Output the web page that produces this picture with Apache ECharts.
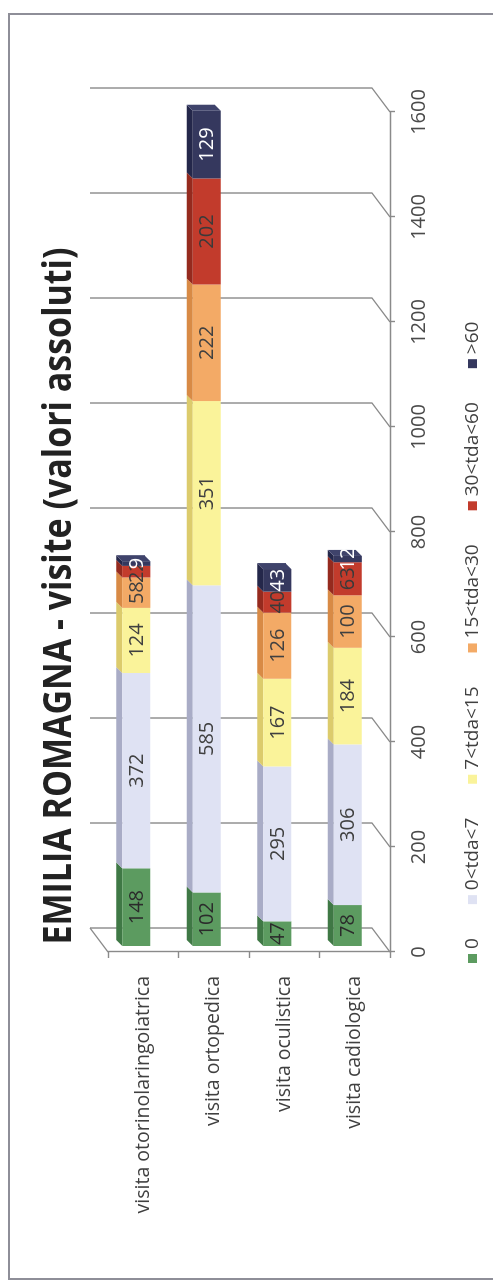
<!DOCTYPE html>
<html>
<head>
<meta charset="utf-8">
<script src="https://cdn.jsdelivr.net/npm/echarts@6/dist/echarts.min.js"></script>
<style>
  html, body { margin: 0; padding: 0; background: #fff; overflow: hidden; }
  #page { position: relative; width: 493px; height: 1282px; overflow: hidden; background: #fff; }
  /* the chart is laid out landscape and turned a quarter turn to stand upright */
  #chart { position: absolute; left: 0; top: 0; width: 1282px; height: 493px;
           transform-origin: 0 0; transform: translateY(1282px) rotate(-90deg); }
</style>
</head>
<body>
<div id="page"><div id="chart"></div></div>
<script>
// ---- data ----
const titleText = 'EMILIA ROMAGNA - visite (valori assoluti)';
const categories = ['visita otorinolaringoiatrica', 'visita ortopedica', 'visita oculistica', 'visita cadiologica'];
const seriesNames = ['0', '0<tda<7', '7<tda<15', '15<tda<30', '30<tda<60', '>60'];
const valZero    = [148, 102, 47, 78];
const val0to7    = [372, 585, 295, 306];
const val7to15   = [124, 351, 167, 184];
const val15to30  = [58, 222, 126, 100];
const val30to60  = [22, 202, 40, 63];
const valOver60  = [9, 129, 43, 12];
const valueTicks = [0, 200, 400, 600, 800, 1000, 1200, 1400, 1600];

// ---- styling ----
const faceColors  = ['#5c9b60', '#dfe2f3', '#faf39a', '#f3aa66', '#c23b2c', '#35385e'];
const sideColors  = ['#3f7845', '#a9acc6', '#dccb6c', '#d88a45', '#952a1e', '#24274a'];
const topColors   = ['#6fae72', '#e9ecf8', '#fcf7b4', '#f6bd85', '#cf5444', '#3f436b'];
const labelColors = ['#2b2b2b', '#404040', '#404040', '#404040', '#3a3a3a', '#ffffff'];
const FONT = '"Open Sans", "Noto Sans", sans-serif';
const AXIS_GRAY = '#8a8a8a';
const FACE_SHIFT = [6, -7];   // bar front face sits a little behind the front axis plane
const DEPTH = [6, -6];        // bar depth vector
const WALL = [24, -18];       // back wall / floor depth vector

const stackValues = [valZero, val0to7, val7to15, val15to30, val30to60, valOver60];

const chart = echarts.init(document.getElementById('chart'), null, { renderer: 'canvas' });

function barRenderer(idx, isTop) {
  return function (params, api) {
    const base = api.value(0), cat = api.value(1), val = api.value(2);
    const a = api.coord([base, cat]);
    const b = api.coord([base + val, cat]);
    const band = api.size([0, 1])[1];
    const w = band * 0.4;
    const cy = a[1] + FACE_SHIFT[1];
    const y0 = cy - w / 2, y1 = cy + w / 2;
    const x0 = a[0] + FACE_SHIFT[0], x1 = b[0] + FACE_SHIFT[0];
    const children = [
      { type: 'polygon', shape: { points: [[x0, y0], [x1, y0], [x1 + DEPTH[0], y0 + DEPTH[1]], [x0 + DEPTH[0], y0 + DEPTH[1]]] },
        style: { fill: sideColors[idx] } },
      { type: 'rect', shape: { x: x0, y: y0, width: x1 - x0, height: w }, style: { fill: faceColors[idx] } }
    ];
    if (isTop) {
      children.push({ type: 'polygon',
        shape: { points: [[x1, y0], [x1, y1], [x1 + DEPTH[0], y1 + DEPTH[1]], [x1 + DEPTH[0], y0 + DEPTH[1]]] },
        style: { fill: topColors[idx] } });
    }
    children.push({ type: 'text', x: (x0 + x1) / 2, y: cy + 1, z2: 10,
      style: { text: String(val), fill: labelColors[idx], font: '20px ' + FONT, align: 'center', verticalAlign: 'middle' } });
    return { type: 'group', children: children };
  };
}

const series = [];
// wall gridlines with their depth returns to the front value axis
series.push({
  type: 'custom', name: 'grid', silent: true, clip: false, z: 1,
  encode: { x: 0, y: 1 },
  data: valueTicks.map(v => [v, 0]),
  renderItem: function (params, api) {
    const cs = params.coordSys;
    const v = api.value(0);
    const fx = api.coord([v, 0])[0];
    const bottom = cs.y + cs.height;
    const bx = fx + WALL[0];
    const pts = [[bx, cs.y + WALL[1]], [bx, bottom + WALL[1]], [fx, bottom]];
    const children = [{ type: 'polyline', shape: { points: pts }, style: { stroke: AXIS_GRAY, lineWidth: 1.4, fill: null } }];
    if (v === 0) {
      children.push({ type: 'line', shape: { x1: bx, y1: cs.y + WALL[1], x2: fx, y2: cs.y },
        style: { stroke: AXIS_GRAY, lineWidth: 1.4 } });
    }
    return { type: 'group', children: children };
  }
});

const cumulative = categories.map(() => 0);
stackValues.forEach((vals, idx) => {
  const data = vals.map((v, c) => {
    const item = [cumulative[c], c, v];
    cumulative[c] += v;
    return item;
  });
  series.push({
    type: 'custom', name: seriesNames[idx], clip: false, z: 2 + idx,
    itemStyle: { color: faceColors[idx] },
    encode: { x: [0, 2], y: 1 },
    data: data,
    renderItem: barRenderer(idx, idx === stackValues.length - 1)
  });
});

// title width fitted to a condensed look
const TITLE_FONT = 'bold 40px ' + FONT;
const measureCtx = document.createElement('canvas').getContext('2d');
measureCtx.font = TITLE_FONT;
const titleScale = 697 / measureCtx.measureText(titleText).width;

chart.setOption({
  backgroundColor: '#fff',
  animation: false,
  grid: { left: 330, right: 112, top: 108, height: 282, containLabel: false },
  xAxis: {
    type: 'value', min: 0, max: 1600, interval: 200, position: 'bottom',
    axisLine: { show: true, lineStyle: { color: AXIS_GRAY, width: 1.4 } },
    axisTick: { show: true, length: 5, lineStyle: { color: AXIS_GRAY, width: 1.4 } },
    axisLabel: { margin: 19, color: '#4a4a4a', fontSize: 20, fontFamily: FONT,
                 formatter: function (v) { return String(v); } },
    splitLine: { show: false }
  },
  yAxis: {
    type: 'category', inverse: true, data: categories,
    axisLine: { show: true, lineStyle: { color: AXIS_GRAY, width: 1.4 } },
    axisTick: { show: true, length: 6, interval: 0, lineStyle: { color: AXIS_GRAY, width: 1.4 } },
    axisLabel: { margin: 24, color: '#404040', fontSize: 19.5, fontFamily: FONT, interval: 0 }
  },
  legend: {
    data: seriesNames, orient: 'horizontal', left: 314, top: 458,
    itemWidth: 9, itemHeight: 9, itemGap: 34, icon: 'rect',
    textStyle: { color: '#404040', fontSize: 19, fontFamily: FONT, padding: [0, 0, 0, 0] }
  },
  graphic: [
    { type: 'rect', silent: true, z: -1,
      shape: { x: 3, y: 9, width: 1265, height: 500 },
      style: { fill: null, stroke: '#8e8e98', lineWidth: 2 } },
    { type: 'text', x: 686, y: 60, scaleX: titleScale, z: 5,
      style: { text: titleText, font: TITLE_FONT, fill: '#222222', align: 'center', verticalAlign: 'middle' } }
  ],
  series: series
});
</script>
</body>
</html>
